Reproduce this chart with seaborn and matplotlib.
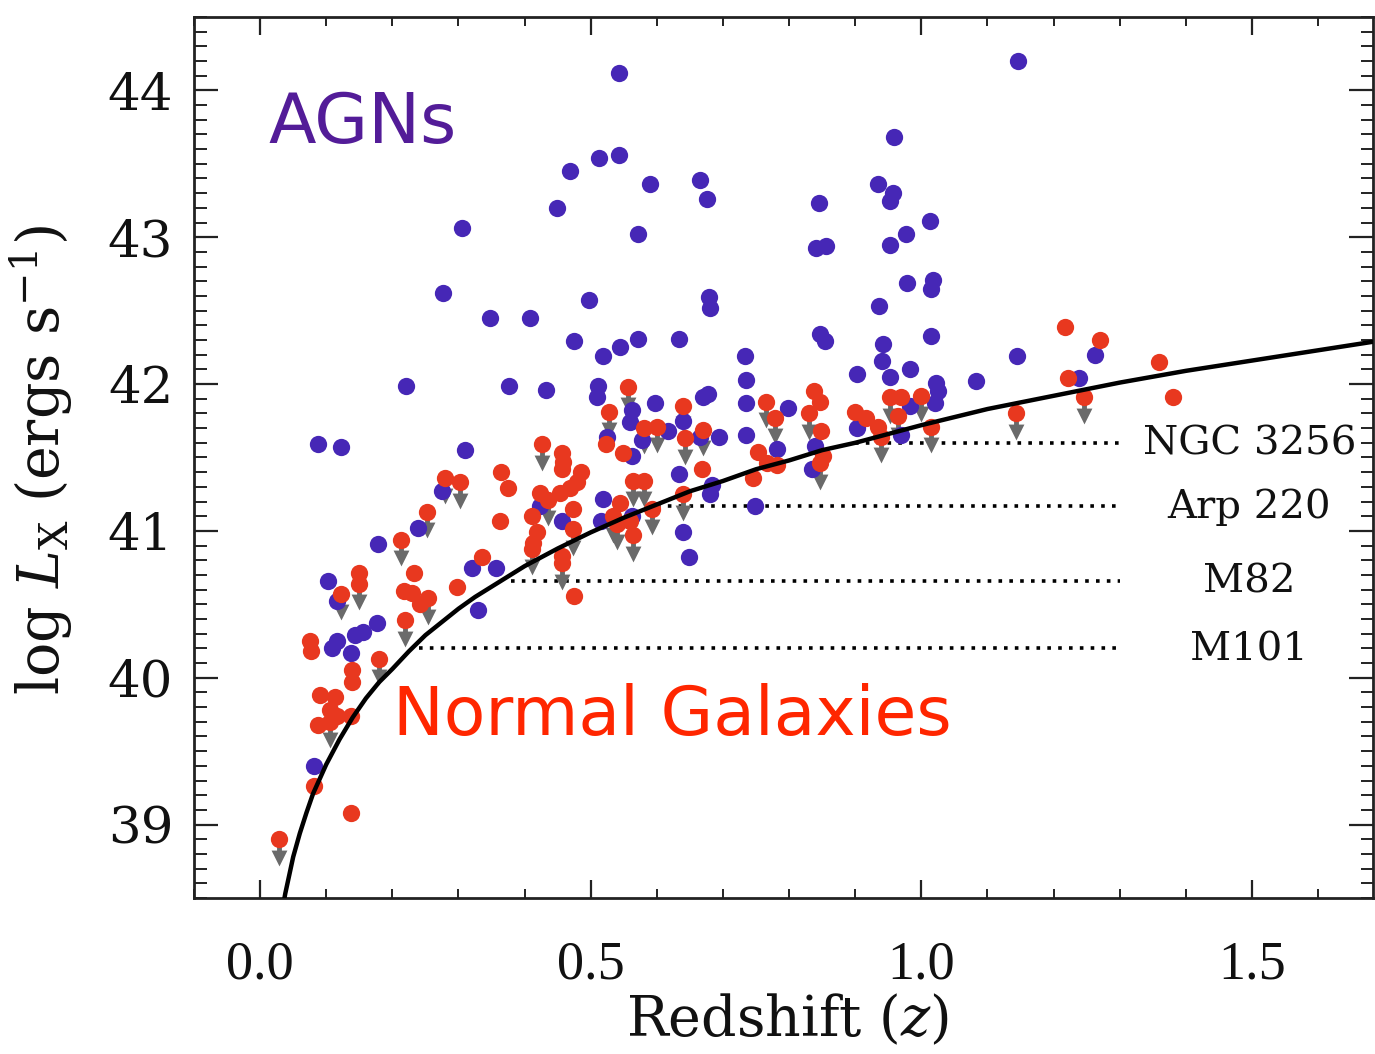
import matplotlib
matplotlib.use("Agg")
import matplotlib.pyplot as plt
from matplotlib.ticker import MultipleLocator, FixedLocator
import numpy as np
import pandas as pd
import seaborn as sns

# X-ray detected AGNs: redshift and log X-ray luminosity (erg/s)
agn_z = [0.543, 1.146, 0.958, 0.513, 0.542, 0.469, 0.589, 0.665, 0.676, 0.934,
         0.957, 0.952, 0.845, 0.449, 1.013, 0.305, 0.572, 0.977, 0.841, 0.856,
         0.952, 0.978, 1.017, 1.015, 0.276, 0.498, 0.679, 0.680, 0.936, 0.348,
         0.408, 0.571, 0.633, 0.475, 0.846, 0.854, 0.942, 1.015, 0.544, 0.519,
         0.733, 1.144, 1.262, 0.941, 0.902, 0.952, 0.983, 1.083, 1.239, 0.735,
         1.022, 1.025, 1.020, 0.221, 0.377, 0.432, 0.511, 0.510, 0.670, 0.677,
         0.597, 0.735, 0.798, 0.562, 0.559, 0.983, 0.640, 0.617, 0.902, 0.735,
         0.694, 0.665, 0.577, 0.970, 0.524, 0.088, 0.122, 0.310, 0.781, 0.839,
         0.562, 0.834, 0.634, 0.683, 0.680, 0.275, 0.519, 0.423, 0.748, 0.456,
         0.516, 0.239, 0.639, 0.178, 0.649, 0.320, 0.357, 0.103, 0.116, 0.330,
         0.176, 0.156, 0.144, 0.116, 0.108, 0.137, 0.081, 0.562]
agn_lx = [44.12, 44.20, 43.68, 43.54, 43.56, 43.45, 43.36, 43.39, 43.26, 43.36,
          43.30, 43.25, 43.23, 43.20, 43.11, 43.06, 43.02, 43.02, 42.93, 42.94,
          42.95, 42.69, 42.71, 42.65, 42.62, 42.57, 42.59, 42.52, 42.53, 42.45,
          42.45, 42.31, 42.31, 42.29, 42.34, 42.29, 42.27, 42.33, 42.25, 42.19,
          42.19, 42.19, 42.20, 42.16, 42.07, 42.05, 42.10, 42.02, 42.04, 42.03,
          42.01, 41.95, 41.87, 41.99, 41.99, 41.96, 41.99, 41.91, 41.91, 41.93,
          41.87, 41.87, 41.84, 41.82, 41.74, 41.85, 41.75, 41.68, 41.70, 41.65,
          41.64, 41.64, 41.62, 41.65, 41.64, 41.59, 41.57, 41.55, 41.56, 41.58,
          41.51, 41.42, 41.39, 41.31, 41.25, 41.27, 41.22, 41.17, 41.17, 41.07,
          41.07, 41.02, 40.99, 40.91, 40.82, 40.75, 40.75, 40.66, 40.52, 40.46,
          40.37, 40.31, 40.29, 40.25, 40.20, 40.17, 39.40, 41.10]

# Normal galaxies: redshift, log X-ray luminosity, upper-limit flag
gal_z = [1.218, 1.270, 1.359, 1.222, 1.381, 1.246, 1.143, 0.557, 0.527, 0.523,
         0.549, 0.426, 0.457, 0.458, 0.456, 0.486, 0.479, 0.468, 0.453, 0.365,
         0.375, 0.280, 0.302, 0.423, 0.436, 0.473, 0.411, 0.363, 0.252, 0.473,
         0.418, 0.413, 0.411, 0.456, 0.456, 0.474, 0.533, 0.544, 0.564, 0.564,
         0.213, 0.232, 0.217, 0.229, 0.242, 0.254, 0.219, 0.335, 0.297, 0.149,
         0.149, 0.122, 0.076, 0.077, 0.180, 0.139, 0.139, 0.091, 0.113, 0.106,
         0.116, 0.088, 0.106, 0.137, 0.081, 0.137, 0.028, 0.580, 0.600, 0.639,
         0.642, 0.670, 0.669, 0.580, 0.539, 0.559, 0.593, 0.640, 0.765, 0.778,
         0.753, 0.766, 0.781, 0.746, 0.838, 0.846, 0.830, 0.848, 0.851, 0.846,
         0.899, 0.917, 0.935, 0.939, 0.952, 0.970, 0.965, 1.000, 1.015]
gal_lx = [42.39, 42.30, 42.15, 42.04, 41.91, 41.91, 41.80, 41.98, 41.81, 41.59,
          41.53, 41.59, 41.53, 41.47, 41.42, 41.40, 41.33, 41.29, 41.26, 41.40,
          41.29, 41.36, 41.33, 41.26, 41.21, 41.15, 41.10, 41.07, 41.13, 41.01,
          40.99, 40.92, 40.88, 40.83, 40.78, 40.56, 41.10, 41.19, 40.97, 41.34,
          40.94, 40.71, 40.59, 40.58, 40.50, 40.54, 40.39, 40.82, 40.62, 40.71,
          40.64, 40.57, 40.25, 40.18, 40.13, 40.05, 39.97, 39.88, 39.87, 39.78,
          39.74, 39.68, 39.70, 39.74, 39.26, 39.08, 38.90, 41.70, 41.71, 41.85,
          41.63, 41.69, 41.42, 41.34, 41.05, 41.07, 41.15, 41.25, 41.88, 41.77,
          41.54, 41.46, 41.45, 41.36, 41.95, 41.88, 41.80, 41.68, 41.51, 41.46,
          41.81, 41.77, 41.71, 41.64, 41.91, 41.91, 41.78, 41.92, 41.71]
gal_limit = [0, 0, 0, 0, 0, 1, 1, 1, 1, 0,
             0, 1, 0, 0, 0, 0, 0, 0, 0, 0,
             0, 1, 1, 0, 1, 0, 0, 0, 1, 1,
             0, 0, 1, 0, 1, 0, 1, 0, 1, 1,
             1, 0, 0, 0, 0, 1, 1, 0, 0, 0,
             1, 1, 0, 0, 1, 0, 0, 0, 0, 0,
             0, 0, 1, 0, 0, 0, 1, 1, 1, 1,
             1, 1, 0, 1, 1, 0, 1, 1, 1, 1,
             0, 0, 0, 0, 0, 0, 1, 0, 0, 1,
             0, 0, 0, 1, 1, 0, 1, 1, 1]

# Survey sensitivity limit
curve_z = [0.036, 0.038, 0.05, 0.06, 0.07, 0.08, 0.09, 0.10, 0.12, 0.14, 0.16,
           0.18, 0.20, 0.225, 0.25, 0.275, 0.30, 0.325, 0.35, 0.40, 0.45, 0.50,
           0.55, 0.60, 0.65, 0.70, 0.75, 0.80, 0.85, 0.90, 0.95, 1.00, 1.10,
           1.20, 1.30, 1.40, 1.50, 1.60, 1.70]
curve_lx = [38.48, 38.53, 38.78, 38.94, 39.08, 39.21, 39.31, 39.41, 39.58, 39.73,
            39.86, 39.97, 40.06, 40.18, 40.29, 40.38, 40.47, 40.55, 40.62, 40.76,
            40.88, 40.99, 41.09, 41.18, 41.27, 41.34, 41.42, 41.48, 41.55, 41.60,
            41.66, 41.72, 41.83, 41.92, 42.01, 42.09, 42.16, 42.23, 42.30]

# Local comparison galaxies
ref_names = ["NGC 3256", "Arp 220", "M82", "M101"]
ref_lx = [41.60, 41.17, 40.66, 40.20]
ref_zstart = [0.90, 0.60, 0.38, 0.24]
ref_zend = 1.30

agn = pd.DataFrame({"z": agn_z, "lx": agn_lx})
gal = pd.DataFrame({"z": gal_z, "lx": gal_lx, "limit": gal_limit})
curve = pd.DataFrame({"z": curve_z, "lx": curve_lx})

sns.set_theme(style="ticks")
plt.rcParams["font.family"] = ["DejaVu Serif"]
plt.rcParams["mathtext.fontset"] = "dejavuserif"
plt.rcParams["text.color"] = "#111111"
plt.rcParams["axes.labelcolor"] = "#111111"
plt.rcParams["xtick.color"] = "#111111"
plt.rcParams["ytick.color"] = "#111111"

BLUE = "#4627B6"
RED = "#E8381F"
GREY = "#6A6A6A"

fig = plt.figure(figsize=(13.75, 10.54), dpi=100)
ax = fig.add_axes([0.1411, 0.148, 0.8574, 0.8359])

# reference luminosity levels
ax.hlines(ref_lx, ref_zstart, ref_zend, colors="black",
          linestyles=(0, (1, 2)), lw=2.6, zorder=1)
for name, lx in zip(ref_names, ref_lx):
    ax.text(1.496, lx - 0.01, name, ha="center", va="center",
            fontsize=29, family="DejaVu Serif", color="#111111")

# upper-limit arrows
lim = gal[gal["limit"] == 1]
ax.vlines(lim["z"], lim["lx"] - 0.12, lim["lx"], colors=GREY, lw=3.5, zorder=2)
ax.scatter(lim["z"], lim["lx"] - 0.125, marker="v", s=130, color=GREY,
           linewidths=0, zorder=2)

sns.scatterplot(data=agn, x="z", y="lx", color=BLUE, s=155, linewidth=0,
                ax=ax, zorder=3, legend=False)
sns.scatterplot(data=gal, x="z", y="lx", color=RED, s=155, linewidth=0,
                ax=ax, zorder=4, legend=False)
sns.lineplot(data=curve, x="z", y="lx", color="black", lw=3.2, sort=False,
             estimator=None, ax=ax, zorder=5)

ax.text(0.012, 43.64, "AGNs", color="#531C98", fontsize=50,
        family="DejaVu Sans", ha="left", va="baseline")
ax.text(0.201, 39.61, "Normal Galaxies", color="#FF2600", fontsize=49,
        family="DejaVu Sans", ha="left", va="baseline")

ax.set_xlim(-0.1, 1.683)
ax.set_ylim(38.5, 44.5)

ax.xaxis.set_major_locator(FixedLocator([0.0, 0.5, 1.0, 1.5]))
ax.xaxis.set_minor_locator(MultipleLocator(0.1))
ax.yaxis.set_major_locator(FixedLocator([39, 40, 41, 42, 43, 44]))
ax.yaxis.set_minor_locator(MultipleLocator(0.1))
ax.set_xticklabels(["0.0", "0.5", "1.0", "1.5"], fontsize=39,
                   family="Liberation Serif")
ax.set_yticklabels(["39", "40", "41", "42", "43", "44"], fontsize=37,
                   family="DejaVu Serif")

ax.tick_params(axis="x", which="major", direction="in", length=13, width=1.6,
               top=True, bottom=True, pad=30, color="#222222")
ax.tick_params(axis="x", which="minor", direction="in", length=6.5, width=1.4,
               top=True, bottom=True, color="#222222")
ax.tick_params(axis="y", which="major", direction="in", length=17, width=1.6,
               left=True, right=True, pad=15, color="#222222")
ax.tick_params(axis="y", which="minor", direction="in", length=9, width=1.4,
               left=True, right=True, color="#222222")

for sp in ax.spines.values():
    sp.set_linewidth(2.0)
    sp.set_color("#222222")
    sp.set_visible(True)

ax.set_xlabel(r"Redshift ($z$)", fontsize=40, family="DejaVu Serif")
ax.set_ylabel(r"log $L_{\rm X}$ (ergs s$^{-1}$)", fontsize=41,
              family="DejaVu Serif")
ax.xaxis.set_label_coords(0.503, -0.108)
ax.yaxis.set_label_coords(-0.101, 0.497)

fig.savefig("out.png", dpi=100, facecolor="white")
